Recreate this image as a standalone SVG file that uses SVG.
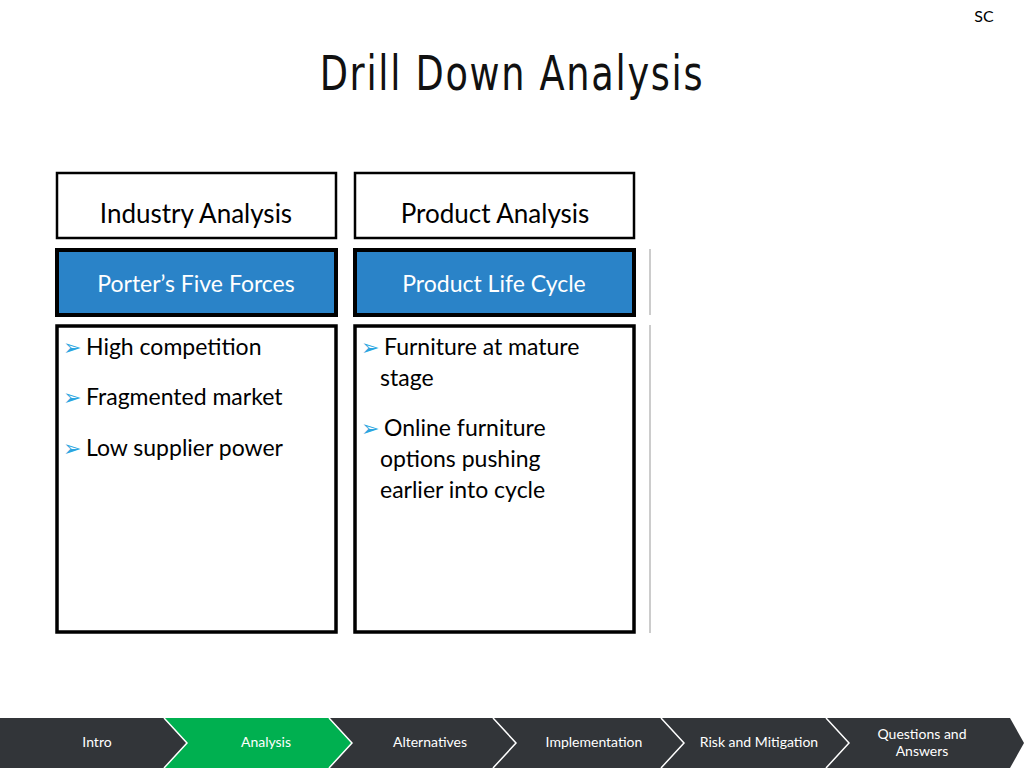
<svg xmlns="http://www.w3.org/2000/svg" width="1024" height="768" viewBox="0 0 1024 768">
<style>
.t{font-family:"Lato","Liberation Sans",sans-serif}
.hd{fill:#fff;stroke:#000;stroke-width:2.5}
.bl{fill:#2a83c8;stroke:#000;stroke-width:4}
.ct{fill:#fff;stroke:#000;stroke-width:3.5}
.b{font-size:23px;fill:#000}
.bu{fill:#2aa5e0;font-family:"DejaVu Sans",sans-serif;font-size:22px}
.nav{font-size:14px;fill:#fff;text-anchor:middle}
</style>
<rect width="1024" height="768" fill="#fff"/>
<text x="984" y="22" class="t" font-size="16" text-anchor="middle">SC</text>
<text x="512" y="90" font-family="DejaVu Sans Condensed,sans-serif" font-size="48" text-anchor="middle" letter-spacing="2" transform="translate(512 0) scale(0.85 1) translate(-512 0)" fill="#111">Drill Down Analysis</text>
<g id="industry">
<rect class="hd" x="57" y="173" width="279" height="65"/>
<text class="t" x="196" y="223" font-size="26" text-anchor="middle">Industry Analysis</text>
<rect class="bl" x="57" y="250" width="279" height="65"/>
<text class="t" x="196" y="292" font-size="23" fill="#fff" text-anchor="middle">Porter’s Five Forces</text>
<rect class="ct" x="57" y="326" width="279" height="306"/>
<text class="bu" x="63" y="355">➢</text><text class="t b" x="86" y="355">High competition</text>
<text class="bu" x="63" y="405">➢</text><text class="t b" x="86" y="405">Fragmented market</text>
<text class="bu" x="63" y="456">➢</text><text class="t b" x="86" y="456">Low supplier power</text>
</g>
<g id="product">
<rect class="hd" x="355" y="173" width="279" height="65"/>
<text class="t" x="495" y="223" font-size="26" text-anchor="middle">Product Analysis</text>
<rect class="bl" x="355" y="250" width="279" height="65"/>
<text class="t" x="494" y="292" font-size="23" fill="#fff" text-anchor="middle">Product Life Cycle</text>
<rect class="ct" x="355" y="326" width="279" height="306"/>
<text class="bu" x="361" y="355">➢</text><text class="t b" x="384" y="355">Furniture at mature</text>
<text class="t b" x="380" y="386">stage</text>
<text class="bu" x="361" y="436">➢</text><text class="t b" x="384" y="436">Online furniture</text>
<text class="t b" x="380" y="467">options pushing</text>
<text class="t b" x="380" y="498">earlier into cycle</text>
</g>
<g id="edge" stroke="#bbb" stroke-width="1.5">
<line x1="650" y1="249" x2="650" y2="315"/>
<line x1="650" y1="325" x2="650" y2="633"/>
</g>
<g id="nav">
<polygon points="0,718 1010,718 1024,743 1010,768 0,768" fill="#323539"/>
<polygon points="164,718 329,718 352,743 329,768 164,768 187,743" fill="#00b050"/>
<g fill="none" stroke="#fff" stroke-width="1.5">
<polyline points="164,718 187,743 164,768"/>
<polyline points="329,718 352,743 329,768"/>
<polyline points="493,718 516,743 493,768"/>
<polyline points="661,718 684,743 661,768"/>
<polyline points="826,718 849,743 826,768"/>
</g>
<text class="t nav" x="97" y="747">Intro</text>
<text class="t nav" x="266" y="747">Analysis</text>
<text class="t nav" x="430" y="747">Alternatives</text>
<text class="t nav" x="594" y="747">Implementation</text>
<text class="t nav" x="759" y="747">Risk and Mitigation</text>
<text class="t nav" x="922" y="739">Questions and</text>
<text class="t nav" x="922" y="756">Answers</text>
</g>
</svg>
